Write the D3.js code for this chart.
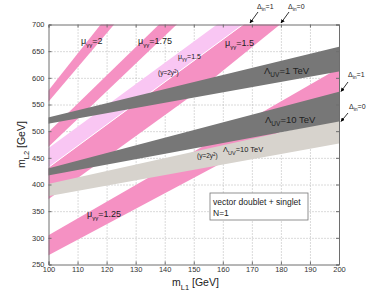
<!DOCTYPE html>
<html>
<head>
<meta charset="utf-8">
<script src="https://cdn.jsdelivr.net/npm/d3@7"></script>
<style>
  body { margin: 0; background: #fff; }
  text { font-family: "Liberation Sans", Arial, sans-serif; fill: #222; }
</style>
</head>
<body>
<script>
// tick values
let xTicks = [100, 110, 120, 130, 140, 150, 160, 170, 180, 190, 200];
let yTicks = [250, 300, 350, 400, 450, 500, 550, 600, 650, 700];

// band edges as [mL1, mL2] in GeV (run a bit past the frame, clipped later)
let mu2Upper = [[95, 542], [121, 721]];
let mu2Lower = [[95, 523], [126, 722]];
let mu175Upper = [[95, 472], [142, 721]];
let mu175Lower = [[95, 445], [148, 720]];
let mu15yUpper = [[95, 448], [163, 720]];
let mu15yLower = [[95, 412], [172, 720]];
let mu15Upper = [[95, 412], [172, 720]];
let mu15Lower = [[95, 353], [150, 569], [179.7, 700], [184, 719]];
let mu125Upper = [[95, 289], [205, 634]];
let mu125Lower = [[95, 253], [205, 572]];
let lam1Upper = [[95, 519], [205, 665]];
let lam1Lower = [[95, 509], [205, 617]];
let lam10Upper = [[95, 423], [205, 581]];
let lam10Lower = [[95, 412], [205, 523]];
let lam10yUpper = [[95, 395], [205, 528]];
let lam10yLower = [[95, 373], [205, 482]];

let pink = "#f591c3", lilac = "#f9c6f3", grey = "#777777", beige = "#d7d3cd";

let margin = {top: 24.5, bottom: 29.5, left: 48.5, right: 35};
let width = 374, height = 294;

let svg = d3.select("body")
  .append("svg")
  .attr("width", width)
  .attr("height", height);

let x = d3.scaleLinear().domain([100, 200]).range([margin.left, width - margin.right]);
let y = d3.scaleLinear().domain([250, 700]).range([height - margin.bottom, margin.top]);

svg.append("clipPath").attr("id", "plotclip")
  .append("rect")
  .attr("x", x(100)).attr("y", y(700))
  .attr("width", x(200) - x(100)).attr("height", y(250) - y(700));

// dotted grid
let grid = svg.append("g").attr("class", "grid");
grid.append("g")
  .attr("transform", "translate(0," + y(250) + ")")
  .call(d3.axisBottom(x).tickValues(xTicks.slice(1, -1)).tickSize(-(y(250) - y(700))).tickFormat(""));
grid.append("g")
  .attr("transform", "translate(" + x(100) + ",0)")
  .call(d3.axisLeft(y).tickValues(yTicks.slice(1, -1)).tickSize(-(x(200) - x(100))).tickFormat(""));
grid.selectAll(".domain").remove();
grid.selectAll("line").attr("stroke", "#b5b5b5").attr("stroke-dasharray", "1,2");

let line = d3.line().x(d => x(d[0])).y(d => y(d[1]));
let bands = [
  {up: mu2Upper, lo: mu2Lower, fill: pink},
  {up: mu175Upper, lo: mu175Lower, fill: pink},
  {up: mu125Upper, lo: mu125Lower, fill: pink},
  {up: mu15Upper, lo: mu15Lower, fill: pink},
  {up: mu15yUpper, lo: mu15yLower, fill: lilac},
  {up: lam10yUpper, lo: lam10yLower, fill: beige},
  {up: lam10Upper, lo: lam10Lower, fill: grey},
  {up: lam1Upper, lo: lam1Lower, fill: grey}
];

let plot = svg.append("g").attr("clip-path", "url(#plotclip)");
plot.selectAll("path.band")
  .data(bands.slice(0, 5))
  .enter()
  .append("path")
    .attr("class", "band")
    .attr("d", d => line(d.up.concat(d.lo.slice().reverse())) + "Z")
    .style("fill", d => d.fill);

// thin white seam between the two mu=1.5 bands
plot.append("path")
  .attr("d", line(mu15yLower))
  .style("fill", "none").style("stroke", "#fff").style("stroke-width", 1);

// Lambda_UV bands on top
plot.selectAll("path.over")
  .data(bands.slice(5))
  .enter()
  .append("path")
    .attr("class", "over")
    .attr("d", d => line(d.up.concat(d.lo.slice().reverse())) + "Z")
    .style("fill", d => d.fill);

// axes, ticks pointing inwards
let axes = svg.append("g").attr("class", "axes");
axes.append("g")
  .attr("transform", "translate(0," + y(250) + ")")
  .call(d3.axisBottom(x).tickValues(xTicks).tickSize(-3).tickPadding(2));
axes.append("g")
  .attr("transform", "translate(0," + y(700) + ")")
  .call(d3.axisTop(x).tickValues(xTicks).tickSize(-3).tickFormat(""));
axes.append("g")
  .attr("transform", "translate(" + x(100) + ",0)")
  .call(d3.axisLeft(y).tickValues(yTicks).tickSize(-3).tickPadding(4));
axes.append("g")
  .attr("transform", "translate(" + x(200) + ",0)")
  .call(d3.axisRight(y).tickValues(yTicks).tickSize(-3).tickFormat(""));
axes.selectAll(".domain").attr("stroke", "#6e6e6e");
axes.selectAll(".tick line").attr("stroke", "#6e6e6e");
axes.selectAll(".tick text").style("font-size", "7.5px").style("fill", "#333")
  .style("font-family", "'Liberation Sans', Arial, sans-serif");

// text with a subscript
function label(px, py, main, sub, rest, size, subSize) {
  let t = svg.append("text").attr("x", px).attr("y", py).style("font-size", size + "px");
  t.append("tspan").text(main);
  t.append("tspan").attr("dy", size * 0.35).style("font-size", subSize + "px").text(sub);
  t.append("tspan").attr("dy", -size * 0.35).text(rest);
  return t;
}

label(81, 44, "\u03bc", "\u03b3\u03b3", "=2", 9, 6);
label(138, 44, "\u03bc", "\u03b3\u03b3", "=1.75", 9, 6);
label(225, 45.5, "\u03bc", "\u03b3\u03b3", "=1.5", 9, 6);
label(178, 59, "\u03bc", "\u03b3\u03b3", "=1.5", 7, 5);
label(87, 217, "\u03bc", "\u03b3\u03b3", "=1.25", 9, 6);
label(264, 74, "\u039b", "UV", "=1  TeV", 9.5, 6.5);
label(265, 123, "\u039b", "UV", "=10 TeV", 9.5, 6.5);
label(223, 152, "\u039b", "UV", "=10 TeV", 7.5, 5.5);

function yukawa(px, py) {
  let t = svg.append("text").attr("x", px).attr("y", py).style("font-size", "6.5px");
  t.append("tspan").text("(y=2y");
  t.append("tspan").attr("dy", -2.5).style("font-size", "4.5px").text("2");
  t.append("tspan").attr("dy", 2.5).text(")");
}
yukawa(158, 75);
yukawa(197, 158);

// Delta_in arrows
svg.append("defs").append("marker")
  .attr("id", "head").attr("viewBox", "0 0 10 10")
  .attr("refX", 9).attr("refY", 5)
  .attr("markerWidth", 5).attr("markerHeight", 5)
  .attr("orient", "auto")
  .append("path").attr("d", "M0,0 L10,5 L0,10 Z").style("fill", "#000");

let arrows = [
  {tx: 257, ty: 9, text: "=1", x1: 258, y1: 12, x2: 250, y2: 23},
  {tx: 288, ty: 9, text: "=0", x1: 289, y1: 12, x2: 281, y2: 23},
  {tx: 348, ty: 77, text: "=1", x1: 348, y1: 82, x2: 341, y2: 91.5},
  {tx: 349, ty: 109, text: "=0", x1: 348, y1: 113, x2: 341, y2: 121.5}
];
arrows.forEach(a => {
  label(a.tx, a.ty, "\u0394", "in", a.text, 7, 5);
  svg.append("line")
    .attr("x1", a.x1).attr("y1", a.y1).attr("x2", a.x2).attr("y2", a.y2)
    .style("stroke", "#000").style("stroke-width", 0.8)
    .attr("marker-end", "url(#head)");
});

// legend box
svg.append("rect")
  .attr("x", 210).attr("y", 193).attr("width", 98).attr("height", 27)
  .style("fill", "#fff").style("stroke", "#777").style("stroke-width", 0.8);
svg.append("text").attr("x", 213).attr("y", 205).style("font-size", "8.5px").text("vector doublet + singlet");
svg.append("text").attr("x", 213).attr("y", 216).style("font-size", "8.5px").text("N=1");

// axis titles
label(172, 286, "m", "L1", " [GeV]", 10.5, 7.5);
label(0, 0, "m", "L2", " [GeV]", 10.5, 7.5)
  .attr("transform", "translate(25,168) rotate(-90)");
</script>
</body>
</html>
